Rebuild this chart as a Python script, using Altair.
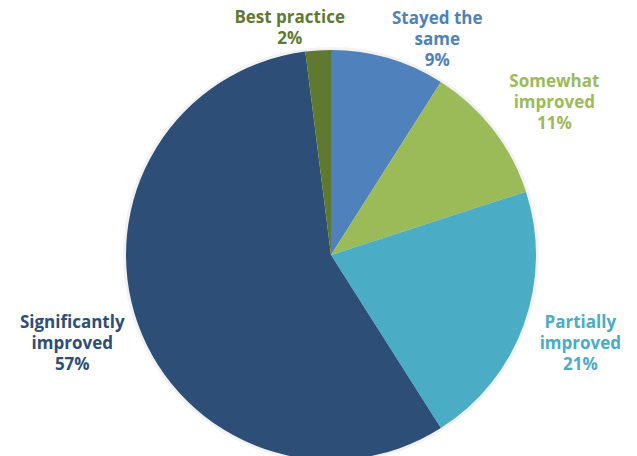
import altair as alt
import pandas as pd

categories = ["Stayed the same", "Somewhat improved", "Partially improved",
              "Significantly improved", "Best practice"]
values = [9, 11, 21, 57, 2]
label_lines = ["Stayed the\nsame", "Somewhat\nimproved", "Partially\nimproved",
               "Significantly\nimproved", "Best practice"]
colors = ["#4F81BD", "#9BBB59", "#4BACC6", "#2D4E76", "#5F7A30"]

df = pd.DataFrame({"category": categories, "value": values,
                   "idx": list(range(len(categories))), "label": label_lines})

CX, CY = 323, 247
LH = 21
theta_scale = alt.Scale(domain=[0, 100])
color = alt.Color("category:N", scale=alt.Scale(domain=categories, range=colors), legend=None)
base = alt.Chart(df)

shadow = base.mark_arc(radius=208, color="#000000", opacity=0.05).encode(
    theta=alt.Theta("value:Q", stack=True, scale=theta_scale),
    order=alt.Order("idx:Q"),
    x=alt.value(CX), y=alt.value(CY),
)

pie = base.mark_arc(radius=205).encode(
    theta=alt.Theta("value:Q", stack=True, scale=theta_scale),
    color=color,
    order=alt.Order("idx:Q"),
    x=alt.value(CX), y=alt.value(CY),
)

# label placement: (radius, dx, dy, number of lines)
layout = {
    "Stayed the same": (241, 39, 16, 3),
    "Somewhat improved": (270, 10, 13, 3),
    "Partially improved": (265, 0, -1, 3),
    "Significantly improved": (275, 0, -4, 3),
    "Best practice": (228, -27, 1, 2),
}

layers = []
for cat, (r, dx, dy, n) in layout.items():
    layers.append(
        base.transform_window(cum="sum(value)", sort=[alt.SortField("idx")], frame=[None, 0])
        .transform_calculate(mid="datum.cum - datum.value/2",
                             txt="datum.label + '\\n' + datum.value + '%'")
        .transform_filter(alt.datum.category == cat)
        .mark_text(radius=r, dx=dx, dy=dy - (n - 1) * LH / 2, font="Open Sans",
                   fontWeight="bold", fontSize=17,
                   lineBreak="\n", lineHeight=LH, align="center", baseline="middle")
        .encode(theta=alt.Theta("mid:Q", scale=theta_scale), color=color,
                text="txt:N", x=alt.value(CX), y=alt.value(CY))
    )

chart = alt.layer(shadow, pie, *layers).properties(
    width=621, height=448, padding=0, autosize="none"
).configure_view(stroke=None)

chart.save("out.html", embed_options={"renderer": "svg", "actions": False})
